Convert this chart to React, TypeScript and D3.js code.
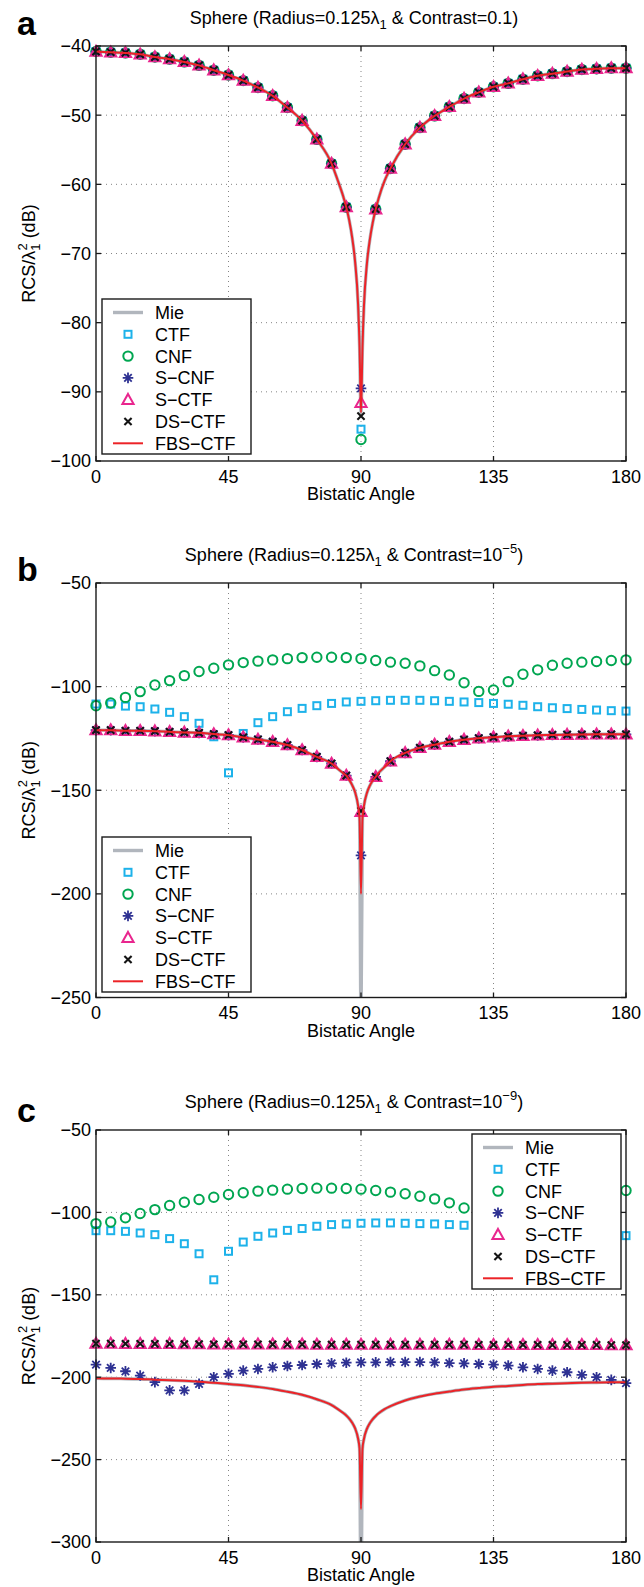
import React from 'react';
import * as d3 from 'd3';

// ---------- shared categories ----------
const ANGLES = [0, 5, 10, 15, 20, 25, 30, 35, 40, 45, 50, 55, 60, 65, 70, 75, 80, 85, 90,
  95, 100, 105, 110, 115, 120, 125, 130, 135, 140, 145, 150, 155, 160, 165, 170, 175, 180];
const LINE_ANGLES = [0, 5, 10, 15, 20, 25, 30, 35, 40, 45, 50, 55, 60, 65, 70, 75, 80,
  82, 84, 85, 86, 87, 88, 89, 89.5, 90, 90.5, 91, 92, 93, 94, 95, 96, 98,
  100, 105, 110, 115, 120, 125, 130, 135, 140, 145, 150, 155, 160, 165, 170, 175, 180];
const X_TICKS = [0, 45, 90, 135, 180];
const LEGEND_LABELS = ['Mie', 'CTF', 'CNF', 'S\u2212CNF', 'S\u2212CTF', 'DS\u2212CTF', 'FBS\u2212CTF'];

// ---------- panel a (contrast 0.1) ----------
const A_Y_TICKS = [-100, -90, -80, -70, -60, -50, -40];
const A_COMMON = [-40.8, -40.9, -41.0, -41.2, -41.6, -41.9, -42.3, -42.8, -43.5, -44.2, -45.0, -46.0,
  -47.2, -48.9, -50.8, -53.5, -57.0, -63.3, null, -63.6, -57.7, -54.2, -51.8, -50.1, -48.8, -47.6,
  -46.7, -45.9, -45.4, -44.8, -44.3, -44.0, -43.7, -43.4, -43.3, -43.2, -43.2];
const A_CTF_90 = -95.4;
const A_CNF_90 = -96.9;
const A_SCNF_90 = -89.5;
const A_SCTF_90 = -91.6;
const A_DSCTF_90 = -93.5;
const A_CURVE = [-40.8, -40.9, -41.0, -41.2, -41.6, -41.9, -42.3, -42.8, -43.5, -44.2, -45.0, -46.0,
  -47.2, -48.9, -50.8, -53.5, -57.0,
  -59.3, -61.8, -63.3, -65.2, -67.7, -71.2, -77.3, -83.3, -93.0, -83.6, -77.6, -71.5, -68.0, -65.5,
  -63.6, -62.0, -59.5,
  -57.7, -54.2, -51.8, -50.1, -48.8, -47.6, -46.7, -45.9, -45.4, -44.8, -44.3, -44.0, -43.7, -43.4,
  -43.3, -43.2, -43.2];

// ---------- panel b (contrast 1e-5) ----------
const B_Y_TICKS = [-250, -200, -150, -100, -50];
const B_CTF = [-108.4, -108.4, -109.4, -109.7, -110.8, -112.4, -114.5, -117.7, -124.2, -141.6, -122.6,
  -117.4, -114.5, -112.1, -110.5, -109.2, -108.1, -107.4, -107.1, -106.8, -106.6, -106.6, -106.6,
  -106.8, -107.1, -107.4, -107.7, -108.1, -108.5, -109.0, -109.7, -110.2, -110.6, -111.0, -111.3,
  -111.6, -111.8];
const B_CNF = [-109.2, -107.9, -105.2, -102.4, -99.2, -97.1, -94.7, -92.7, -91.1, -89.5, -88.4, -87.7,
  -87.1, -86.5, -86.0, -85.8, -85.8, -86.0, -86.5, -87.4, -88.2, -88.7, -90.0, -92.3, -94.4, -98.1,
  -102.3, -101.6, -97.6, -94.0, -91.9, -89.7, -88.7, -88.2, -87.9, -87.4, -87.1];
const B_COMMON = [-121.0, -121.0, -121.3, -121.3, -121.5, -121.8, -122.1, -122.3, -122.9, -123.4,
  -124.5, -125.5, -126.6, -128.2, -130.6, -133.9, -137.1, -142.9, null, -143.5, -136.0, -132.0,
  -129.5, -128.0, -126.6, -125.6, -124.9, -124.4, -124.0, -123.7, -123.5, -123.3, -123.2, -123.1,
  -123.0, -123.0, -123.0];
const B_SCNF_90 = -181.4;
const B_SCTF_90 = -160.4;
const B_DSCTF_90 = -160.0;
const B_FBS = [-121.0, -121.0, -121.3, -121.3, -121.5, -121.8, -122.1, -122.3, -122.9, -123.4,
  -124.5, -125.5, -126.6, -128.2, -130.6, -133.9, -137.1,
  -139.5, -141.8, -142.9, -145.0, -147.5, -151.0, -157.3, -163.3, -200.0, -163.5, -157.5, -151.3,
  -147.8, -145.3, -143.5, -141.6, -138.8,
  -136.0, -132.0, -129.5, -128.0, -126.6, -125.6, -124.9, -124.4, -124.0, -123.7, -123.5, -123.3,
  -123.2, -123.1, -123.0, -123.0, -123.0];
const B_MIE_90 = -262;

// ---------- panel c (contrast 1e-9) ----------
const C_Y_TICKS = [-300, -250, -200, -150, -100, -50];
const C_CTF = [-111.1, -111.1, -111.5, -112.5, -113.5, -115.9, -119.0, -125.1, -140.9, -123.6, -118.0,
  -114.5, -112.5, -110.9, -109.8, -108.4, -107.4, -107.0, -106.6, -106.4, -106.4, -106.6, -106.8,
  -107.0, -107.4, -107.8, -108.2, -108.6, -109.0, -109.6, -110.4, -111.0, -111.8, -112.5, -113.0,
  -113.6, -114.1];
const C_CNF = [-106.8, -105.8, -103.3, -100.7, -98.3, -95.8, -93.8, -92.2, -90.8, -89.1, -88.1, -87.1,
  -86.5, -85.9, -85.5, -85.3, -85.3, -85.5, -85.9, -86.7, -87.7, -88.7, -90.2, -91.8, -94.2, -97.3,
  -101.5, -101.0, -97.5, -94.0, -92.0, -90.0, -89.0, -88.3, -87.8, -87.2, -86.7];
const C_SCNF = [-192.4, -194.4, -196.4, -199.0, -203.0, -208.0, -208.0, -204.0, -200.0, -198.0, -196.0,
  -195.0, -194.0, -193.2, -192.6, -192.0, -191.6, -191.2, -191.0, -191.0, -190.8, -190.8, -190.8,
  -191.0, -191.4, -191.6, -192.0, -192.4, -193.0, -194.0, -195.0, -196.0, -197.0, -198.6, -200.0,
  -201.6, -203.6];
const C_SCTF = [-179.6, -179.6, -179.7, -179.7, -179.8, -179.8, -179.9, -179.9, -180.0, -180.0, -180.0,
  -180.1, -180.1, -180.1, -180.1, -180.2, -180.2, -180.2, -180.2, -180.2, -180.2, -180.2, -180.2,
  -180.2, -180.2, -180.2, -180.3, -180.3, -180.3, -180.3, -180.3, -180.4, -180.4, -180.4, -180.4,
  -180.5, -180.5];
const C_DSCTF = C_SCTF;
const C_FBS = [-200.7, -200.8, -200.9, -201.1, -201.5, -201.8, -202.2, -202.7, -203.4, -204.1, -204.9,
  -205.9, -207.1, -208.8, -210.7, -213.4, -216.9,
  -219.2, -221.7, -223.2, -225.1, -227.6, -231.1, -237.2, -243.2, -280.0, -243.5, -237.5, -231.4,
  -227.9, -225.4, -223.5, -221.9, -219.4,
  -217.6, -214.1, -211.7, -210.0, -208.7, -207.5, -206.6, -205.8, -205.3, -204.7, -204.2, -203.9,
  -203.6, -203.3, -203.2, -203.1, -203.1];
const C_MIE_90 = -330;

// ---------- styling ----------
const FONT = "'Liberation Sans', Arial, Helvetica, sans-serif";
const COL = {
  mie: '#b1b6bd', ctf: '#1db2ea', cnf: '#00a651', scnf: '#2e3192',
  sctf: '#e9268e', dsctf: '#141414', fbs: '#ec2327',
};
const X0 = 96, X1 = 626;

type MType = 'ctf' | 'cnf' | 'scnf' | 'sctf' | 'dsctf';

function Marker({ type, x, y }: { type: MType; x: number; y: number }) {
  if (type === 'ctf') {
    const s = 3.5;
    return <rect x={x - s} y={y - s} width={2 * s} height={2 * s} fill="none" stroke={COL.ctf} strokeWidth={2} />;
  }
  if (type === 'cnf') return <circle cx={x} cy={y} r={4.7} fill="none" stroke={COL.cnf} strokeWidth={2} />;
  if (type === 'scnf') {
    const r = 5.3, d = r * 0.7071;
    return <path d={`M${x - r},${y}H${x + r}M${x},${y - r}V${y + r}M${x - d},${y - d}L${x + d},${y + d}M${x - d},${y + d}L${x + d},${y - d}`}
      stroke={COL.scnf} strokeWidth={1.8} fill="none" />;
  }
  if (type === 'sctf') {
    return <path d={`M${x},${y - 5.8}L${x + 5.6},${y + 4.2}L${x - 5.6},${y + 4.2}Z`} fill="none" stroke={COL.sctf} strokeWidth={2} />;
  }
  const s = 3.6;
  return <path d={`M${x - s},${y - s}L${x + s},${y + s}M${x - s},${y + s}L${x + s},${y - s}`} stroke={COL.dsctf} strokeWidth={2.1} fill="none" />;
}

function withAt90(common: (number | null)[], v90: number) {
  return common.map((v, i) => (ANGLES[i] === 90 ? v90 : (v as number)));
}

type PanelProps = {
  id: string; letter: string; letterY: number; top: number; bottom: number;
  domain: [number, number]; yTicks: number[];
  title: React.ReactNode;
  mie: number[]; fbs: number[];
  markers: { type: MType; values: number[] }[];
  legend: { x: number; y: number };
};

function Panel(p: PanelProps) {
  const x = d3.scaleLinear().domain([0, 180]).range([X0, X1]);
  const y = d3.scaleLinear().domain(p.domain).range([p.bottom, p.top]);
  const line = d3.line<number>().x((_, i) => x(LINE_ANGLES[i])).y((v) => y(v)).curve(d3.curveMonotoneX);
  const clipId = `clip-${p.id}`;
  const lg = p.legend;
  const LW = 149, LH = 155;
  const entryY = (i: number) => lg.y + 13.5 + i * 21.8;
  const legTypes: (MType | 'mie' | 'fbs')[] = ['mie', 'ctf', 'cnf', 'scnf', 'sctf', 'dsctf', 'fbs'];
  const cy = (p.top + p.bottom) / 2;
  return (
    <g>
      <defs>
        <clipPath id={clipId}><rect x={X0} y={p.top} width={X1 - X0} height={p.bottom - p.top} /></clipPath>
      </defs>
      <text x={17} y={p.letterY} fontSize={34} fontWeight="bold" fill="#000">{p.letter}</text>
      <text x={354} y={p.top - 22.5} fontSize={18} textAnchor="middle" fill="#000">{p.title}</text>
      {/* grid */}
      <g stroke="#858585" strokeWidth={1} strokeDasharray="1,4">
        {X_TICKS.slice(1, -1).map((t) => <line key={'gx' + t} x1={x(t)} x2={x(t)} y1={p.top} y2={p.bottom} />)}
        {p.yTicks.slice(1, -1).map((t) => <line key={'gy' + t} x1={X0} x2={X1} y1={y(t)} y2={y(t)} />)}
      </g>
      {/* Mie */}
      <path d={line(p.mie) || ''} fill="none" stroke={COL.mie} strokeWidth={3.4} clipPath={`url(#${clipId})`} />
      {p.markers.map((m, k) => (
        <g key={k}>
          {m.values.map((v, i) => <Marker key={i} type={m.type} x={x(ANGLES[i])} y={y(v)} />)}
        </g>
      ))}
      <path d={line(p.fbs) || ''} fill="none" stroke={COL.fbs} strokeWidth={2} clipPath={`url(#${clipId})`} />
      {/* axes box & ticks */}
      <rect x={X0} y={p.top} width={X1 - X0} height={p.bottom - p.top} fill="none" stroke="#1a1a1a" strokeWidth={1.4} />
      <g stroke="#1a1a1a" strokeWidth={1.3}>
        {X_TICKS.map((t) => (
          <g key={'tx' + t}>
            <line x1={x(t)} x2={x(t)} y1={p.bottom} y2={p.bottom - 5} />
            <line x1={x(t)} x2={x(t)} y1={p.top} y2={p.top + 5} />
          </g>
        ))}
        {p.yTicks.map((t) => (
          <g key={'ty' + t}>
            <line x1={X0} x2={X0 + 5} y1={y(t)} y2={y(t)} />
            <line x1={X1} x2={X1 - 5} y1={y(t)} y2={y(t)} />
          </g>
        ))}
      </g>
      <g fontSize={18} fill="#000">
        {X_TICKS.map((t) => <text key={'lx' + t} x={x(t)} y={p.bottom + 21.5} textAnchor="middle">{String(t)}</text>)}
        {p.yTicks.map((t) => <text key={'ly' + t} x={91} y={y(t) + 6.4} textAnchor="end">{t < 0 ? '\u2212' + Math.abs(t) : String(t)}</text>)}
        <text x={(X0 + X1) / 2} y={p.bottom + 39} textAnchor="middle">Bistatic Angle</text>
        <text transform={`translate(35,${cy}) rotate(-90)`} textAnchor="middle">
          RCS/λ<tspan fontSize={13} dy={5}>1</tspan><tspan fontSize={13} dx={-7.2} dy={-13}>2</tspan><tspan dy={8}> (dB)</tspan>
        </text>
      </g>
      {/* legend */}
      <rect x={lg.x} y={lg.y} width={LW} height={LH} fill="#fff" stroke="#1a1a1a" strokeWidth={1.4} />
      {legTypes.map((t, i) => (
        <g key={'lg' + i}>
          {t === 'mie' && <line x1={lg.x + 11} x2={lg.x + 41} y1={entryY(i)} y2={entryY(i)} stroke={COL.mie} strokeWidth={3.4} />}
          {t === 'fbs' && <line x1={lg.x + 11} x2={lg.x + 41} y1={entryY(i)} y2={entryY(i)} stroke={COL.fbs} strokeWidth={2} />}
          {t !== 'mie' && t !== 'fbs' && <Marker type={t as MType} x={lg.x + 26} y={entryY(i)} />}
          <text x={lg.x + 53} y={entryY(i) + 6.5} fontSize={18} fill="#000">{LEGEND_LABELS[i]}</text>
        </g>
      ))}
    </g>
  );
}

export default function App() {
  const sub1 = <tspan fontSize={13} dy={5}>1</tspan>;
  const titleA = <>Sphere (Radius=0.125λ{sub1}<tspan dy={-5}> &amp; Contrast=0.1)</tspan></>;
  const titleB = <>Sphere (Radius=0.125λ{sub1}<tspan dy={-5}> &amp; Contrast=10</tspan><tspan fontSize={13} dy={-8}>{'\u22125'}</tspan><tspan dy={8}>)</tspan></>;
  const titleC = <>Sphere (Radius=0.125λ{sub1}<tspan dy={-5}> &amp; Contrast=10</tspan><tspan fontSize={13} dy={-8}>{'\u22129'}</tspan><tspan dy={8}>)</tspan></>;

  const aMarkers = [
    { type: 'ctf' as MType, values: withAt90(A_COMMON, A_CTF_90) },
    { type: 'cnf' as MType, values: withAt90(A_COMMON, A_CNF_90) },
    { type: 'scnf' as MType, values: withAt90(A_COMMON, A_SCNF_90) },
    { type: 'sctf' as MType, values: withAt90(A_COMMON, A_SCTF_90) },
    { type: 'dsctf' as MType, values: withAt90(A_COMMON, A_DSCTF_90) },
  ];
  const bMarkers = [
    { type: 'ctf' as MType, values: B_CTF },
    { type: 'cnf' as MType, values: B_CNF },
    { type: 'scnf' as MType, values: withAt90(B_COMMON, B_SCNF_90) },
    { type: 'sctf' as MType, values: withAt90(B_COMMON, B_SCTF_90) },
    { type: 'dsctf' as MType, values: withAt90(B_COMMON, B_DSCTF_90) },
  ];
  const cMarkers = [
    { type: 'ctf' as MType, values: C_CTF },
    { type: 'cnf' as MType, values: C_CNF },
    { type: 'scnf' as MType, values: C_SCNF },
    { type: 'sctf' as MType, values: C_SCTF },
    { type: 'dsctf' as MType, values: C_DSCTF },
  ];
  const bMie = B_FBS.map((v, i) => (LINE_ANGLES[i] === 90 ? B_MIE_90 : v));
  const cMie = C_FBS.map((v, i) => (LINE_ANGLES[i] === 90 ? C_MIE_90 : v));

  return (
    <svg width={644} height={1587} style={{ position: 'absolute', left: 0, top: 0, background: '#fff' }}
      fontFamily={FONT}>
      <rect x={0} y={0} width={644} height={1587} fill="#fff" />
      <Panel id="a" letter="a" letterY={35} top={46} bottom={461} domain={[-100, -40]} yTicks={A_Y_TICKS}
        title={titleA} mie={A_CURVE} fbs={A_CURVE} markers={aMarkers} legend={{ x: 102, y: 299 }} />
      <Panel id="b" letter="b" letterY={581} top={583} bottom={997.5} domain={[-250, -50]} yTicks={B_Y_TICKS}
        title={titleB} mie={bMie} fbs={B_FBS} markers={bMarkers} legend={{ x: 102, y: 837 }} />
      <Panel id="c" letter="c" letterY={1122} top={1130} bottom={1542} domain={[-300, -50]} yTicks={C_Y_TICKS}
        title={titleC} mie={cMie} fbs={C_FBS} markers={cMarkers} legend={{ x: 472, y: 1134 }} />
    </svg>
  );
}
